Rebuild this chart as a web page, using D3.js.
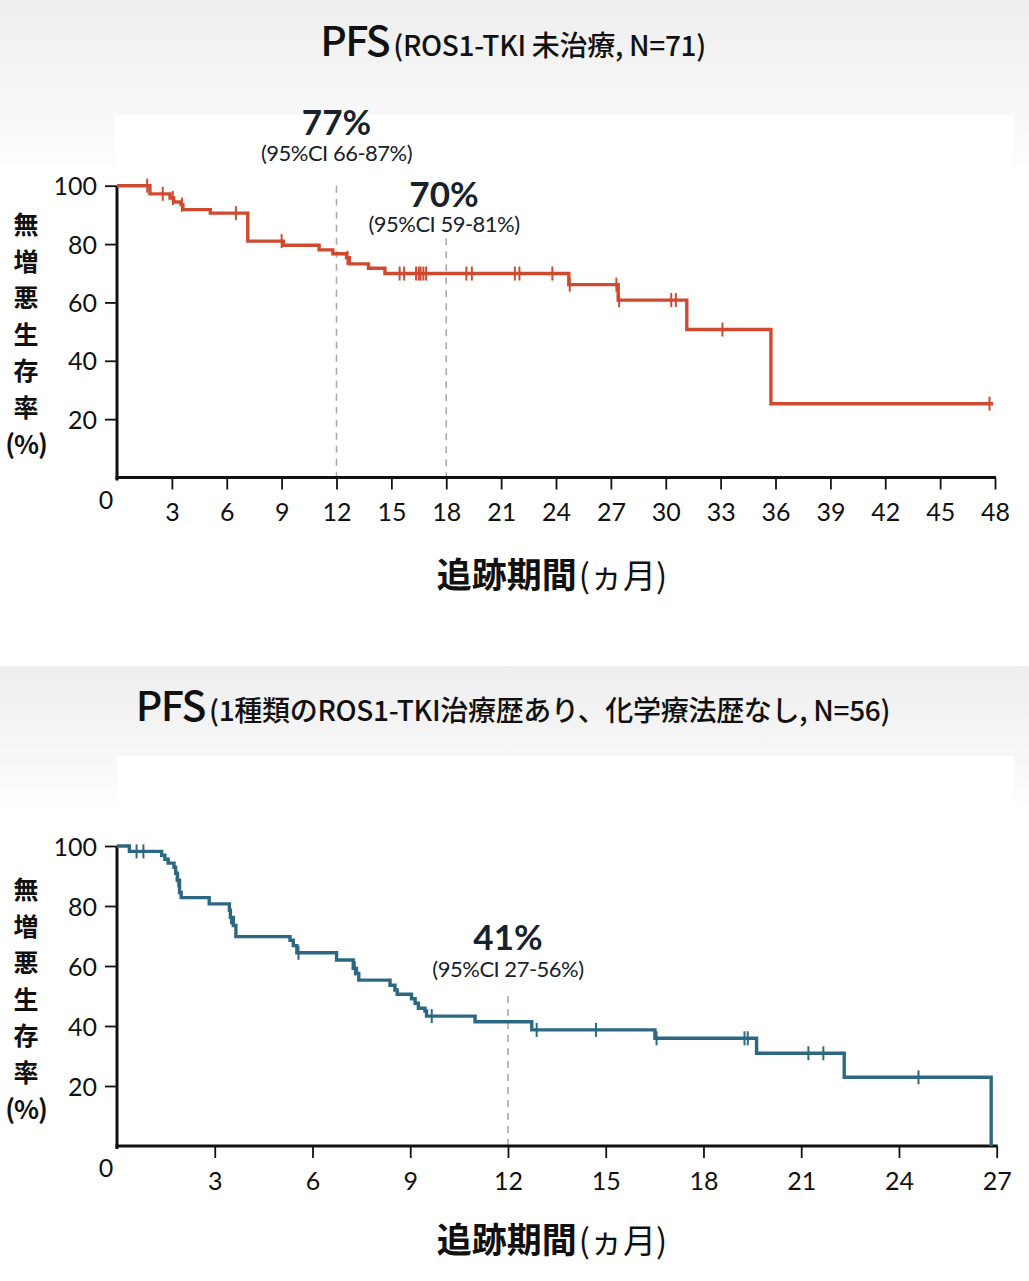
<!DOCTYPE html>
<html>
<head>
<meta charset="utf-8">
<script src="https://cdn.jsdelivr.net/npm/d3@7.9.0/dist/d3.min.js"></script>
<style>
  body { margin: 0; background: #fff; }
  svg { display: block; }
  .tick text { font-family: Lato, sans-serif; font-size: 25px; fill: #111; }
</style>
</head>
<body>
<svg id="chart" width="1029" height="1281"></svg>
<script>
// top panel: ROS1-TKI naive, N=71  -> [month, % after the drop]
const topSteps = [
  [0, 100], [1.8, 97.2], [2.9, 95.8], [3.1, 94.4], [3.5, 93.5], [3.6, 91.8],
  [5.1, 90.6], [7.15, 81.0], [9.1, 79.6], [11.05, 78.0], [11.8, 76.7],
  [12.55, 75.3], [12.7, 73.2], [13.75, 71.7], [14.65, 69.9], [24.7, 66.1],
  [27.4, 60.8], [31.15, 50.7], [35.75, 25.3]
];
const topEnd = 47.9;
const topCensor = [1.65, 2.5, 3.05, 3.55, 6.5, 9.0, 12.6, 15.45, 15.7, 16.35, 16.5,
  16.6, 16.75, 16.9, 19.1, 19.4, 21.75, 22.0, 23.8, 24.75, 27.3, 27.45, 30.3, 30.55,
  33.1, 47.7];
const topTicks = [3, 6, 9, 12, 15, 18, 21, 24, 27, 30, 33, 36, 39, 42, 45, 48];

// bottom panel: 1 prior ROS1-TKI, no chemo, N=56
const botSteps = [
  [0, 100], [0.38, 98.2], [1.37, 96.9], [1.47, 95.6], [1.57, 94.3], [1.75, 92.9],
  [1.8, 90.9], [1.85, 88.6], [1.92, 84.5], [1.97, 82.8], [2.83, 80.7], [3.45, 78.6],
  [3.48, 76.2], [3.57, 73.5], [3.65, 69.8], [5.31, 68.6], [5.41, 66.8], [5.52, 64.4],
  [6.74, 62.0], [7.25, 59.2], [7.35, 57.5], [7.42, 55.3], [8.38, 53.6], [8.53, 52.0],
  [8.6, 50.6], [9.04, 49.1], [9.15, 47.6], [9.25, 45.9], [9.45, 45.0], [9.5, 43.3],
  [10.99, 41.4], [12.73, 38.7], [16.51, 35.9], [19.63, 30.9], [22.32, 22.9], [26.83, 0]
];
const botEnd = 26.83;
const botCensor = [0.6, 0.81, 1.88, 3.5, 5.57, 7.3, 9.66, 12.88, 14.7, 16.56, 19.26,
  19.36, 21.22, 21.68, 24.6];
const botTicks = [3, 6, 9, 12, 15, 18, 21, 24, 27];

const yTicks = [20, 40, 60, 80, 100];
const yLabelChars = ['無', '増', '悪', '生', '存', '率', '(%)'];

const panels = [
  {
    steps: topSteps, end: topEnd, censor: topCensor, ticks: topTicks, xMax: 48,
    color: '#cf4a2f', x0: 117, x1: 995, yTop: 185.7, yBot: 477.5,
    titleY: 56, sub: '(ROS1-TKI 未治療, N=71)', xTitleY: 588, zeroY: 509, yLabY: 225,
    notes: [
      { t: 12, from: 100, big: '77%', ci: '(95%CI 66-87%)', by: 135, cy: 161 },
      { t: 18, from: 82, big: '70%', ci: '(95%CI 59-81%)', by: 207, cy: 232, dx: 444 }
    ]
  },
  {
    steps: botSteps, end: botEnd, censor: botCensor, ticks: botTicks, xMax: 27,
    color: '#2c6882', x0: 117, x1: 996.7, yTop: 846, yBot: 1146,
    titleY: 721, sub: '(1種類のROS1-TKI治療歴あり、化学療法歴なし, N=56)', xTitleY: 1253,
    zeroY: 1177, yLabY: 890,
    notes: [
      { t: 12, from: 50, big: '41%', ci: '(95%CI 27-56%)', by: 950, cy: 977 }
    ]
  }
];

const svg = d3.select('#chart');

// backgrounds
const defs = svg.append('defs');
const grad = defs.append('linearGradient').attr('id', 'bg').attr('x1', 0).attr('x2', 0).attr('y1', 0).attr('y2', 1);
grad.append('stop').attr('offset', '0%').attr('stop-color', '#eeeeee');
grad.append('stop').attr('offset', '60%').attr('stop-color', '#f7f7f7');
grad.append('stop').attr('offset', '100%').attr('stop-color', '#ffffff');

svg.append('rect').attr('x', 0).attr('y', 0).attr('width', 1029).attr('height', 180).attr('fill', 'url(#bg)');
svg.append('rect').attr('x', 115).attr('y', 115).attr('width', 899).attr('height', 520).attr('fill', '#fff');
svg.append('rect').attr('x', 0).attr('y', 666).attr('width', 1029).attr('height', 150).attr('fill', 'url(#bg)');
svg.append('rect').attr('x', 117).attr('y', 756).attr('width', 897).attr('height', 525).attr('fill', '#fff');

const survAt = (steps, t) => {
  let s = 100;
  steps.forEach(([tt, v]) => { if (tt <= t) s = v; });
  return s;
};

panels.forEach(p => {
  const x = d3.scaleLinear().domain([0, p.xMax]).range([p.x0, p.x1]);
  const y = d3.scaleLinear().domain([0, 100]).range([p.yBot, p.yTop]);
  const g = svg.append('g');

  // title
  const title = g.append('text')
    .attr('x', 513).attr('y', p.titleY)
    .attr('text-anchor', 'middle')
    .style('font-family', "'Noto Sans CJK JP', sans-serif")
    .style('fill', '#111');
  title.append('tspan').text('PFS').style('font-size', '41px').style('font-weight', 500).style('letter-spacing', '-1.5px');
  title.append('tspan').text(p.sub).attr('dx', 4).style('font-size', '28px').style('font-weight', 500).style('letter-spacing', '-0.3px');

  // dashed guides
  p.notes.forEach(n => {
    g.append('line')
      .attr('x1', x(n.t)).attr('x2', x(n.t))
      .attr('y1', y(n.from)).attr('y2', p.yBot)
      .attr('stroke', '#aaa').attr('stroke-width', 1.6).attr('stroke-dasharray', '7,6');
    const cx = n.dx || x(n.t);
    g.append('text').attr('x', cx).attr('y', n.by).attr('text-anchor', 'middle')
      .style('font-family', 'Lato, sans-serif').style('font-size', '35px').style('font-weight', 700)
      .style('fill', '#17222c').text(n.big);
    g.append('text').attr('x', cx).attr('y', n.cy).attr('text-anchor', 'middle')
      .style('font-family', 'Lato, sans-serif').style('font-size', '22px')
      .style('letter-spacing', '-0.5px')
      .style('fill', '#17222c').text(n.ci);
  });

  // axes
  const yAxis = g.append('g').attr('transform', `translate(${p.x0},0)`)
    .call(d3.axisLeft(y).tickValues(yTicks).tickSize(12).tickSizeOuter(0).tickPadding(8));
  const xAxis = g.append('g').attr('transform', `translate(0,${p.yBot})`)
    .call(d3.axisBottom(x).tickValues(p.ticks).tickSize(12).tickSizeOuter(0).tickPadding(14));
  [yAxis, xAxis].forEach(a => {
    a.selectAll('line').attr('stroke', '#111').attr('stroke-width', 1.8);
    a.select('.domain').attr('stroke', '#111').attr('stroke-width', 3);
  });
  yAxis.select('.domain').attr('d', `M0,${p.yTop}V${p.yBot + 3}`);
  xAxis.select('.domain').attr('d', `M${p.x0 - 1.5},0H${p.x1 + 1}`);
  yAxis.selectAll('.tick text').attr('dy', '0.36em');

  g.append('text').attr('x', p.x0 - 11).attr('y', p.zeroY).attr('text-anchor', 'middle')
    .style('font-family', 'Lato, sans-serif').style('font-size', '25px').style('fill', '#111').text('0');

  // y title, stacked
  yLabelChars.forEach((c, i) => {
    g.append('text').attr('x', 26).attr('y', p.yLabY + i * 36.6).attr('dy', '0.36em')
      .attr('text-anchor', 'middle')
      .style('font-family', "'Noto Sans CJK JP', sans-serif").style('font-weight', 700)
      .style('font-size', c.length > 1 ? '26px' : '25px').style('fill', '#111')
      .style('letter-spacing', c.length > 1 ? '-1px' : '0').text(c);
  });

  // x title
  const xt = g.append('text').attr('x', 552).attr('y', p.xTitleY).attr('text-anchor', 'middle')
    .style('font-family', "'Noto Sans CJK JP', sans-serif").style('fill', '#111');
  xt.append('tspan').text('追跡期間').style('font-size', '35px').style('font-weight', 700);
  xt.append('tspan').text('(ヵ月)').attr('dx', 2).style('font-size', '33px').style('font-weight', 400);

  // KM curve
  const pts = p.steps.concat([[p.end, p.steps[p.steps.length - 1][1]]]);
  const line = d3.line().x(d => x(d[0])).y(d => y(d[1])).curve(d3.curveStepAfter);
  g.append('path').datum(pts).attr('d', line)
    .attr('fill', 'none').attr('stroke', p.color).attr('stroke-width', 3.4)
    .attr('stroke-linejoin', 'miter');

  g.selectAll('.cens').data(p.censor).join('line')
    .attr('x1', d => x(d)).attr('x2', d => x(d))
    .attr('y1', d => y(survAt(p.steps, d)) - 7)
    .attr('y2', d => y(survAt(p.steps, d)) + 7)
    .attr('stroke', p.color).attr('stroke-width', 2);
});
</script>
</body>
</html>
